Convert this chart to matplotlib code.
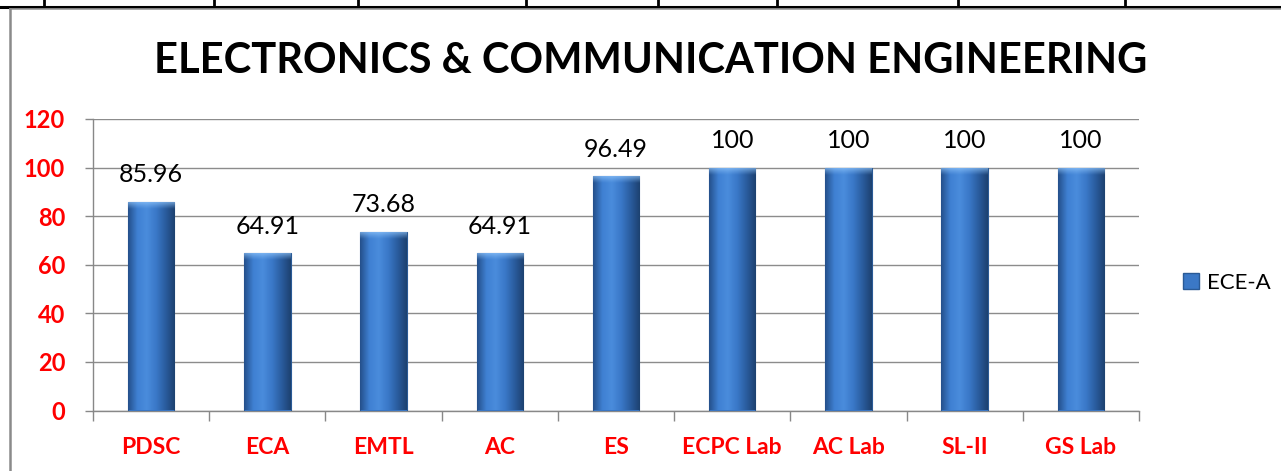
import numpy as np
import matplotlib.pyplot as plt
from matplotlib.lines import Line2D
from matplotlib.patches import Patch
from matplotlib.colors import LinearSegmentedColormap

subjects = ['PDSC', 'ECA', 'EMTL', 'AC', 'ES', 'ECPC Lab', 'AC Lab', 'SL-II', 'GS Lab']
pass_pct = [85.96, 64.91, 73.68, 64.91, 96.49, 100, 100, 100, 100]
value_text = ['85.96', '64.91', '73.68', '64.91', '96.49', '100', '100', '100', '100']
series_name = 'ECE-A'
title = 'ELECTRONICS & COMMUNICATION ENGINEERING'

plt.rcParams['font.family'] = ['Lato', 'DejaVu Sans']

W, H = 1281, 471
fig = plt.figure(figsize=(W / 100, H / 100), dpi=100)
ax = fig.add_axes([93 / W, (H - 410.5) / H, (1139 - 93) / W, (410.5 - 119) / H])

x = np.arange(len(subjects))
bars = ax.bar(x, pass_pct, width=0.40, color='#3b78c6', edgecolor='#2a5a96',
              linewidth=0.8, zorder=3)

# horizontal shading inside each bar
cmap = LinearSegmentedColormap.from_list(
    'barshade', ['#244f8a', '#3f80d2', '#4a8cdc', '#3a78c8', '#2a5c9e', '#1d416f'])
bevel = LinearSegmentedColormap.from_list(
    'bev', [(0.5, 0.72, 0.95, 0.0), (0.6, 0.8, 1.0, 0.75)])
grad = np.linspace(0, 1, 256).reshape(1, -1)
for b in bars:
    x0, y0 = b.get_x(), b.get_y()
    im = ax.imshow(grad, cmap=cmap, aspect='auto', zorder=4,
                   extent=[x0, x0 + b.get_width(), y0, y0 + b.get_height()])
    im.set_clip_path(b)
    # lighter bevel at the top
    top = ax.imshow(np.linspace(0, 1, 64).reshape(-1, 1), cmap=bevel, aspect='auto',
                    origin='lower', zorder=5,
                    extent=[x0, x0 + b.get_width(), y0 + b.get_height() - 3, y0 + b.get_height()])
    top.set_clip_path(b)

for xi, v, t in zip(x, pass_pct, value_text):
    ax.annotate(t, (xi, v), xytext=(0, 11), textcoords='offset points',
                ha='center', va='bottom', fontsize=18, color='black', zorder=6)

ax.set_xlim(-0.5, len(subjects) - 0.5)
ax.set_ylim(0, 120)
ax.set_yticks(range(0, 121, 20))
ax.set_xticks(x)
ax.set_xticklabels(subjects)
ax.set_xticks(np.arange(-0.5, len(subjects), 1), minor=True)
ax.tick_params(axis='x', which='major', length=0, pad=19, labelsize=16.5,
               labelcolor='red')
ax.tick_params(axis='x', which='minor', length=7, width=1, color='#888888')
ax.tick_params(axis='y', length=6, width=1, color='#888888', pad=14,
               labelsize=17, labelcolor='red')
for lab in ax.get_xticklabels() + ax.get_yticklabels():
    lab.set_fontweight('bold')

ax.grid(axis='y', color='#8c8c8c', linewidth=1, zorder=0)
ax.set_axisbelow(True)
for s in ['top', 'right']:
    ax.spines[s].set_visible(False)
for s in ['left', 'bottom']:
    ax.spines[s].set_color('#888888')
    ax.spines[s].set_linewidth(1)

fig.text(651 / W, 1 - 61 / H, title, ha='center', va='center',
         fontsize=30, fontweight='bold', color='black')

fig.legend(handles=[Patch(facecolor='#3b78c6', edgecolor='#2a5a96', label=series_name)],
           loc='center left', bbox_to_anchor=(1163 / W, 1 - 283 / H), frameon=False,
           fontsize=16, handlelength=0.7, handleheight=0.7, handletextpad=0.4)

# page table border around the chart
fig.add_artist(Line2D([0, 1], [1 - 6.5 / H] * 2, color='black', linewidth=2.2))
for px in [44, 214, 358, 526, 658, 777, 958, 1125]:
    fig.add_artist(Line2D([px / W] * 2, [1 - 6.5 / H, 1], color='black', linewidth=2))
fig.add_artist(Line2D([10 / W, 1], [1 - 9 / H] * 2, color='#9a9a9a', linewidth=1.2))
fig.add_artist(Line2D([10 / W] * 2, [0, 1 - 9 / H], color='#8a8a8a', linewidth=1.8))

fig.savefig('out.png', dpi=100)
